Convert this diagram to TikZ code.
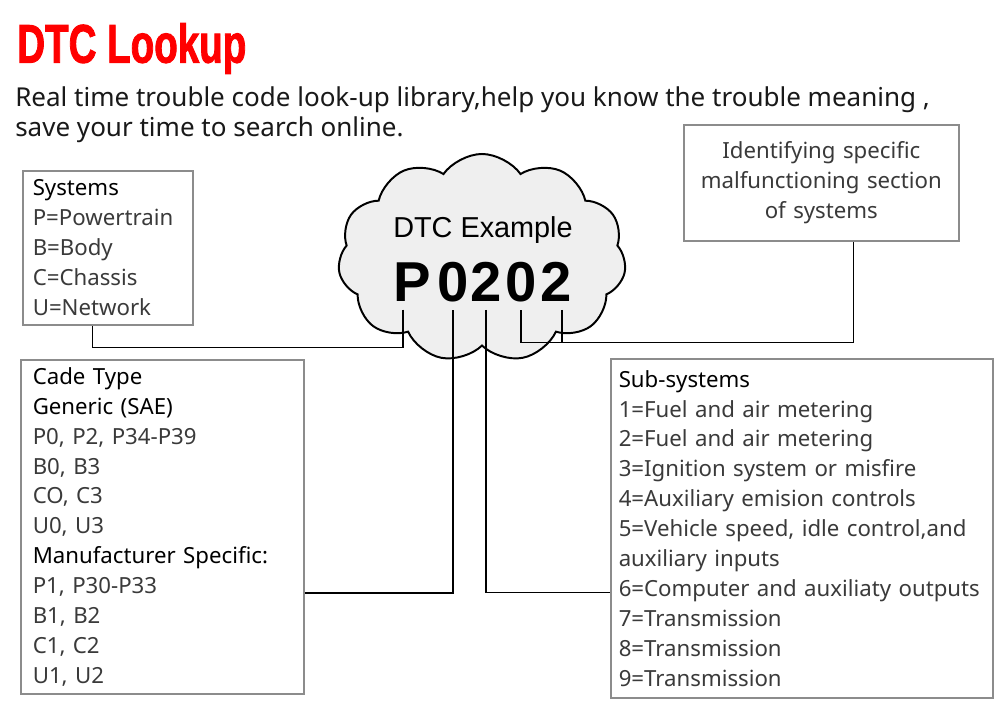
\documentclass[tikz,border=0pt]{standalone}
\usepackage{fontspec}
\setmainfont{Noto Sans}
\newfontfamily\arialfont{Liberation Sans}
\newfontfamily\titlefont{Liberation Sans}[BoldFeatures={FakeBold=2}]
\usetikzlibrary{shapes.symbols,calc}

\definecolor{boxgray}{HTML}{8C8C8C}
\definecolor{cloudgray}{HTML}{EFEFEF}
\definecolor{txtgray}{HTML}{3A3A3A}
\definecolor{titlered}{HTML}{FF0000}
\newcommand{\hd}[1]{{\color{black}#1}}

\begin{document}
\begin{tikzpicture}[x=0.025cm,y=-0.025cm,font=\fontsize{15.8}{21.26}\selectfont]
\tikzstyle{box}=[draw=boxgray,line width=1.1pt,anchor=north west,align=left,inner xsep=0.25cm,inner ysep=0pt,text=txtgray]
\tikzstyle{conn}=[line width=1pt]
\tikzstyle{digit}=[font=\arialfont\bfseries\fontsize{40}{40}\selectfont,inner xsep=0pt,inner ysep=0.2cm]
\useasboundingbox[fill=white] (0,0) rectangle (1000,700);
% heading
\node[anchor=north west,inner sep=0,text=titlered] (title) at (17,23) {\scalebox{0.71}[1]{\titlefont\bfseries\fontsize{38.6}{40}\selectfont DTC Lookup}};
\node[anchor=north west,inner sep=0,align=left,text=black!90,font=\fontsize{18.5}{22}\selectfont] (intro) at (15,86) {Real time trouble code look-up library,help you know the trouble meaning ,\\save your time to search online.};
% cloud with the example code
\node[cloud,cloud puffs=11,cloud puff arc=110,aspect=1.4,draw,line width=1.4pt,fill=cloudgray,minimum width=7.2cm,minimum height=5.2cm] (cld) at (482,258) {};
\node[font=\arialfont\fontsize{20.5}{24}\selectfont] (ex) at (483,230) {DTC Example};
\node[digit] (dP) at (412,282) {P};
\node[digit] (d0a) at (453,282) {0};
\node[digit] (d2a) at (486,282) {2};
\node[digit] (d0b) at (521,282) {0};
\node[digit] (d2b) at (556,282) {2};
% boxes
\node[box,text width=3.75cm,minimum height=3.85cm] (sys) at (22,170) {\hd{Systems}\\P=Powertrain\\B=Body\\C=Chassis\\U=Network};
\node[box,inner xsep=0.3cm,text width=6.475cm,minimum height=8.35cm] (code) at (20,359) {\hd{Cade Type}\\\hd{Generic (SAE)}\\P0, P2, P34-P39\\B0, B3\\CO, C3\\U0, U3\\\hd{Manufacturer Specific:}\\P1, P30-P33\\B1, B2\\C1, C2\\U1, U2};
\node[box,inner xsep=0.2cm,text width=9.15cm,minimum height=8.475cm] (sub) at (610,358) {\hd{Sub-systems}\\1=Fuel and air metering\\2=Fuel and air metering\\3=Ignition system or misfire\\4=Auxiliary emision controls\\5=Vehicle speed, idle control,and\\auxiliary inputs\\6=Computer and auxiliaty outputs\\7=Transmission\\8=Transmission\\9=Transmission};
\node[box,align=center,text width=6.375cm,minimum height=2.9cm] (idn) at (683,124) {Identifying specific\\malfunctioning section\\of systems};
% connectors
\draw[conn] ([xshift=-0.225cm]dP.south) -- ++(0,38) -| ([xshift=-0.375cm]sys.south);
\draw[conn] (d0a.south) |- ([yshift=-1.65cm]code.east);
\draw[conn] (d2a.south) |- ([yshift=-1.6cm]sub.west);
\draw[conn] (d0b.south) -- ++(0,32) -| ([xshift=0.8cm]idn.south);
\draw[conn] ([xshift=0.15cm]d2b.south) -- ++(0,32);
\end{tikzpicture}
\end{document}
